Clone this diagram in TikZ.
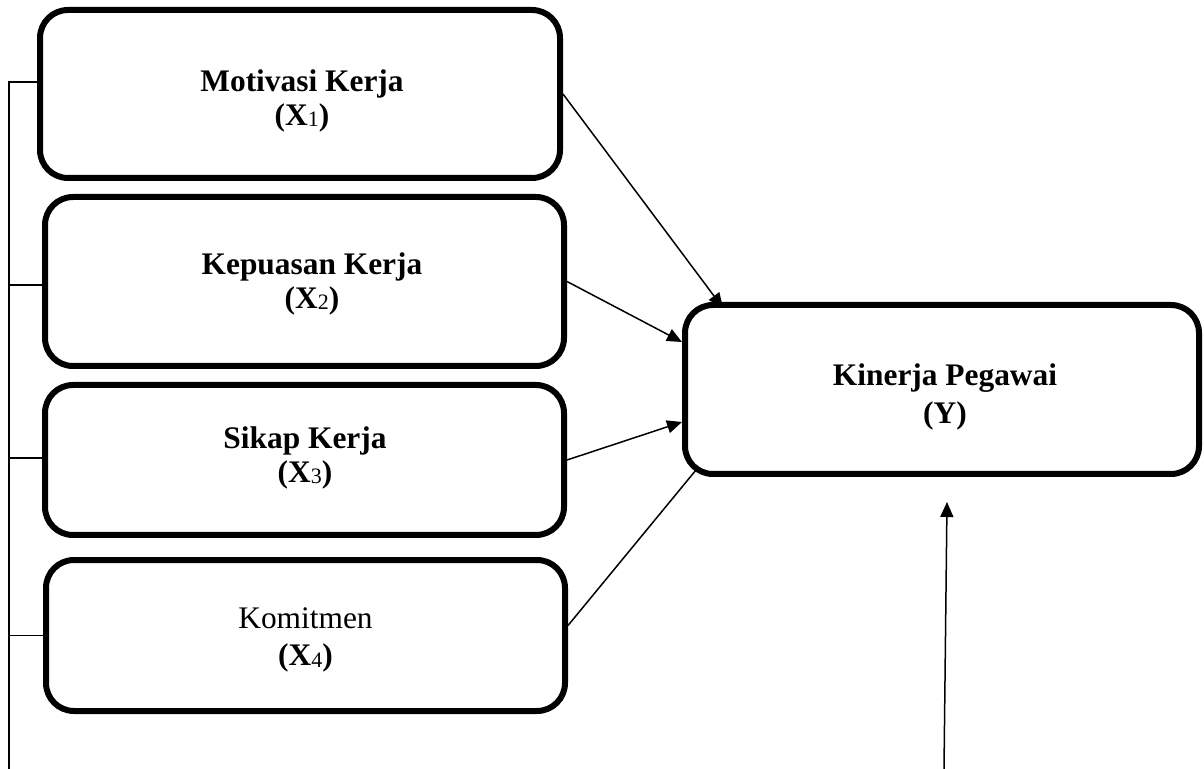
\documentclass[tikz,border=0pt]{standalone}
\usepackage{fontspec}
\setmainfont{Liberation Serif}
\usetikzlibrary{arrows.meta}

\newcommand{\xsub}[1]{\raisebox{-0.8pt}{\mdseries\fontsize{11}{11}\selectfont #1}}

\tikzset{
	var/.style={draw, rounded corners=14pt, line width=3pt, inner sep=0pt},
	lbl/.style={align=center, font=\bfseries\fontsize{15.7}{17}\selectfont, inner sep=0pt},
	arr/.style={line width=0.75pt, -{Triangle[length=7.5pt,width=6.5pt]}},
	brace/.style={line width=0.6pt}
}

\begin{document}
\begin{tikzpicture}[x=0.5pt, y=-0.5pt]
	\useasboundingbox (0,0) rectangle (1204,769);

	% variables
	\node (x1) [var, minimum width=260pt, minimum height=84pt] at (300,94) {};
	\node (x2) [var, minimum width=259.5pt, minimum height=84.5pt] at (304.5,281.5) {};
	\node (x3) [var, minimum width=259.5pt, minimum height=75pt] at (304.5,460) {};
	\node (x4) [var, minimum width=259.5pt, minimum height=75.5pt] at (305.5,635.5) {};
	\node (y) [var, minimum width=257pt, minimum height=84.5pt] at (942,389.5) {};

	\node (x1txt) [lbl] at (302,100.5) {Motivasi Kerja\\(X\xsub{1})};
	\node (x2txt) [lbl] at (312,283.5) {Kepuasan Kerja\\(X\xsub{2})};
	\node (x3txt) [lbl] at (305,457.5) {Sikap Kerja\\(X\xsub{3})};
	\node (x4txt) [lbl] at (305.5,640) {\mdseries Komitmen\\[1.5pt](X\xsub{4})};
	\node (ytxt) [lbl] at (945,396.5) {Kinerja Pegawai\\[2pt](Y)};

	% arrows to Y
	\draw[arr] (x1.east) -- ([xshift=20.5pt, yshift=-3pt]y.north west);
	\draw[arr] (x2.east) -- ([yshift=23.75pt]y.west);
	\draw[arr] (x3.east) -- ([yshift=-16.25pt]y.west);
	\draw[line width=0.75pt] ([yshift=5pt]x4.east) -- ([xshift=7pt, yshift=3.5pt]y.south west);

	\coordinate (yin) at (944,769);
	\draw[arr] (yin) -- ([xshift=2.5pt, yshift=-12.5pt]y.south);

	% bracket on the left
	\coordinate (btop) at (9,82);
	\coordinate (bbot) at (9,769);
	\draw[brace] (bbot) -- (btop) -- ([yshift=6pt]x1.west);
	\draw[brace] ([yshift=-1.75pt]x2.west) coordinate (t2) -- (t2 -| btop);
	\draw[brace] ([yshift=1pt]x3.west) coordinate (t3) -- (t3 -| btop);
	\draw[brace] (x4.west) -- (x4.west -| btop);
\end{tikzpicture}
\end{document}
